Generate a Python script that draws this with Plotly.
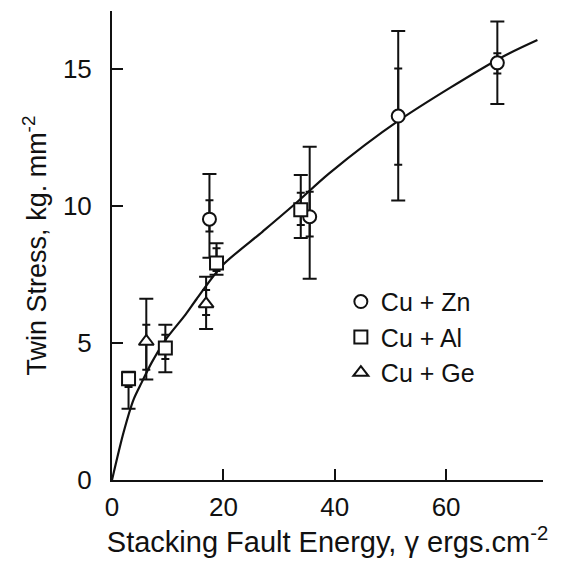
import plotly.graph_objects as go

# ---- data ----
# Cu + Zn (circles)
zn_x = [17.5, 35.5, 51.4, 69.2]
zn_y = [9.51, 9.60, 13.27, 15.21]
zn_hi = [11.16, 12.15, 16.37, 16.72]
zn_lo = [8.10, 7.34, 10.19, 13.71]
zn_in_hi = [10.20, 10.51, 15.00, 15.56]
zn_in_lo = [9.06, 8.88, 11.49, 14.82]

# Cu + Al (squares)
al_x = [2.97, 9.58, 18.77, 33.9]
al_y = [3.69, 4.81, 7.91, 9.85]
al_hi = [3.95, 5.66, 8.63, 11.12]
al_lo = [2.60, 3.93, 7.48, 8.82]
al_in_hi = [3.69, 5.30, 8.45, 10.47]
al_in_lo = [3.39, 4.41, 7.62, 9.30]

# Cu + Ge (triangles)
ge_x = [6.16, 16.9]
ge_y = [5.05, 6.42]
ge_hi = [6.61, 7.41]
ge_lo = [3.66, 5.51]
ge_in_hi = [5.66, 6.93]
ge_in_lo = [4.02, 6.02]

# fitted curve
curve_x = [0, 2.07, 3.87, 5.32, 7.12, 9.64, 13.2, 15.2, 19.8, 27.0, 33.0, 39.0, 51.6, 69.6, 76.4]
curve_y = [0, 1.73, 2.93, 3.55, 4.28, 5.12, 6.03, 6.60, 7.82, 9.05, 10.09, 11.18, 13.12, 15.37, 16.04]

x_ticks = [0, 20, 40, 60]
y_ticks = [0, 5, 10, 15]

series = [
    ("Cu + Zn", "circle", zn_x, zn_y, zn_hi, zn_lo, zn_in_hi, zn_in_lo),
    ("Cu + Al", "square", al_x, al_y, al_hi, al_lo, al_in_hi, al_in_lo),
    ("Cu + Ge", "triangle-up", ge_x, ge_y, ge_hi, ge_lo, ge_in_hi, ge_in_lo),
]

FONT = "Liberation Sans, Arial, Helvetica, sans-serif"
INK = "#111111"

fig = go.Figure()

fig.add_trace(go.Scatter(
    x=curve_x, y=curve_y, mode="lines",
    line=dict(color=INK, width=2.2, shape="spline", smoothing=0.8),
    showlegend=False, hoverinfo="skip",
))

# inner tick marks on the error bars
for name, sym, xs, ys, hi, lo, ihi, ilo in series:
    fig.add_trace(go.Scatter(
        x=xs, y=ys, mode="markers",
        marker=dict(size=1, opacity=0),
        error_y=dict(type="data", symmetric=False,
                     array=[h - v for h, v in zip(ihi, ys)],
                     arrayminus=[v - l for l, v in zip(ilo, ys)],
                     color=INK, thickness=2, width=4),
        showlegend=False, hoverinfo="skip",
    ))

# main series
for name, sym, xs, ys, hi, lo, ihi, ilo in series:
    fig.add_trace(go.Scatter(
        x=xs, y=ys, mode="markers", name=name,
        marker=dict(symbol=sym, size=13, color="white",
                    line=dict(color=INK, width=2)),
        error_y=dict(type="data", symmetric=False,
                     array=[h - v for h, v in zip(hi, ys)],
                     arrayminus=[v - l for l, v in zip(lo, ys)],
                     color=INK, thickness=2, width=7),
    ))

axis_common = dict(
    showline=True, linecolor=INK, linewidth=2,
    ticks="inside", tickcolor=INK, tickwidth=2, ticklen=11,
    showgrid=False, zeroline=False, automargin=False,
    tickfont=dict(family=FONT, size=26, color=INK),
)

# page body has an 8px default margin, so the figure is sized to fit inside it
fig.update_layout(
    width=558, height=558,
    margin=dict(l=104, r=23, t=3, b=86),
    paper_bgcolor="white", plot_bgcolor="white",
    font=dict(family=FONT, color=INK),
    xaxis=dict(range=[0, 77.4], tickvals=x_ticks, ticklabelstandoff=3,
               title=dict(text="Stacking Fault Energy, γ ergs.cm<sup>-2</sup>",
                          font=dict(family=FONT, size=29, color=INK), standoff=4),
               **axis_common),
    yaxis=dict(range=[0, 17.1], tickvals=y_ticks, ticklabelstandoff=13,
               title=dict(text="Twin Stress, kg. mm<sup>-2</sup>",
                          font=dict(family=FONT, size=27, color=INK), standoff=8),
               **axis_common),
    legend=dict(x=0.531, y=0.429, xanchor="left", yanchor="top",
                bgcolor="rgba(0,0,0,0)", itemwidth=30,
                font=dict(family=FONT, size=25, color=INK)),
    showlegend=True,
)

fig.write_html("out.html")
